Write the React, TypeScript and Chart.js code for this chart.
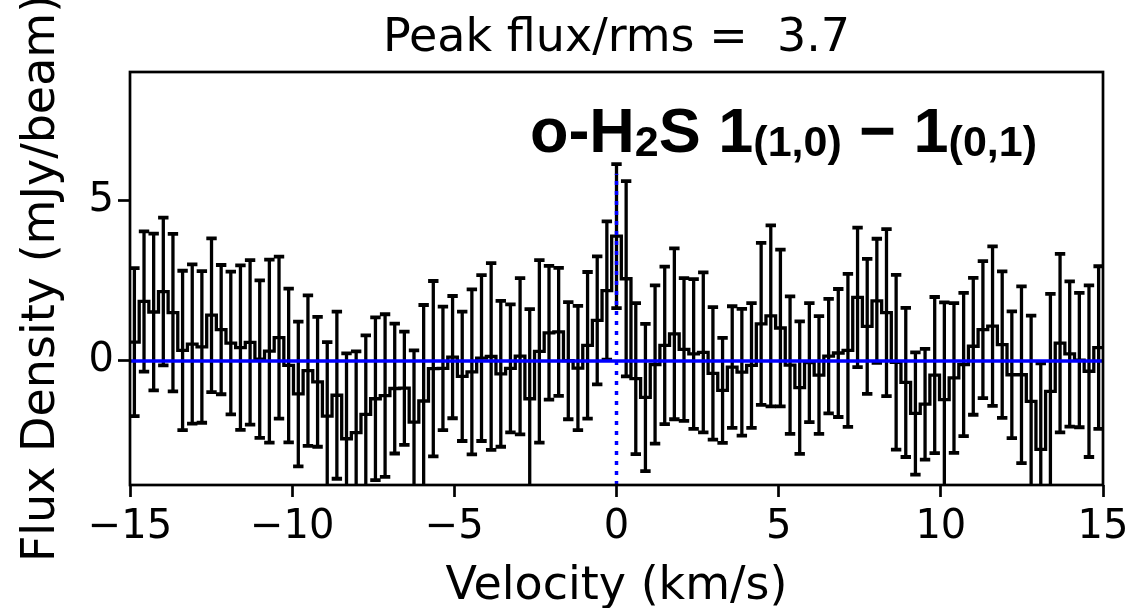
import React, { useEffect, useRef } from "react";
import { Chart, registerables } from "chart.js";

Chart.register(...registerables);

// ---- data ----
const channelWidth = 0.2973; // km/s
const firstChannel = -50; // channel index of first point (velocity = index * width)
const flux: number[] = [
  0.59, 1.86, 1.53, 2.17, 1.51, 0.33, 0.53, 0.44, 1.43, 0.98,
  0.56, 0.42, 0.58, 0.06, 0.31, 0.73, -0.14, -1.03, -0.30, -0.65,
  -1.72, -1.07, -2.43, -2.24, -1.67, -1.18, -1.08, -0.86, -0.85, -1.91,
  -1.25, -0.24, -0.23, 0.12, -0.48, -0.34, 0.09, 0.14, -0.40, -0.23,
  0.15, -1.18, 0.30, 0.88, 0.91, 0.01, -0.22, 0.49, 1.27, 2.20,
  3.90,
  2.57, -0.55, -1.14, -0.11, 0.49, 0.85, 0.36, 0.22, 0.27, -0.39,
  -0.92, -0.19, -0.35, -0.14, 1.16, 1.41, 1.03, -0.13, -0.83, -0.05,
  -0.44, 0.15, 0.25, 0.33, 1.99, 1.08, 1.88, 1.51, -0.04, -0.67,
  -1.64, -1.35, -0.44, -1.21, -0.53, -0.11, 0.46, 0.98, 1.09, 0.51,
  -0.43, -0.43, -1.26, -2.76, -0.95, 0.56, 0.22, 0.03, -0.32, 0.42,
];
const fluxErr: number[] = [
  2.31, 2.19, 2.45, 2.31, 2.46, 2.49, 2.49, 2.37, 2.40, 2.02,
  2.23, 2.57, 2.57, 2.46, 2.86, 2.53, 2.40, 2.26, 2.35, 2.03,
  2.31, 2.61, 2.67, 2.54, 2.47, 2.54, 2.54, 2.03, 1.77, 2.24,
  3.00, 2.74, 1.93, 1.91, 2.02, 2.58, 2.59, 2.92, 2.28, 2.00,
  2.44, 2.80, 2.85, 2.09, 2.00, 1.83, 1.94, 2.29, 2.00, 2.16,
  2.25,
  3.05, 2.36, 2.30, 2.47, 2.46, 2.67, 2.23, 2.34, 2.50, 2.07,
  1.64, 1.90, 1.98, 1.95, 2.53, 2.83, 2.45, 2.15, 2.07, 1.86,
  1.84, 1.79, 2.00, 2.39, 2.18, 2.11, 1.94, 2.61, 2.73, 2.33,
  1.91, 1.73, 2.44, 3.04, 2.34, 2.24, 2.14, 2.14, 2.49, 2.29,
  1.98, 2.76, 2.68, 2.69, 3.05, 2.79, 2.27, 2.10, 2.68, 2.54,
];
const velocity: number[] = flux.map((_, i) => (firstChannel + i) * channelWidth);

const xTicks: number[] = [-15, -10, -5, 0, 5, 10, 15];
const yTicks: number[] = [0, 5];
const xRange: [number, number] = [-15, 15];
const yRange: [number, number] = [-3.875, 9.03];
const lineCenter = 0; // km/s, dotted marker
const markerTop = 5.85; // top of dotted marker (mJy/beam)
const titleText = "Peak flux/rms =  3.7";
const lineLabel: [string, boolean][] = [
  ["o-H", false],
  ["2", true],
  ["S 1", false],
  ["(1,0)", true],
  [" \u2212 1", false],
  ["(0,1)", true],
];
const labelAnchor: [number, number] = [-2.67, 6.53];

const fmt = (v: number) => String(v).replace("-", "\u2212");

export default function App() {
  const ref = useRef<HTMLCanvasElement | null>(null);

  useEffect(() => {
    const canvas = ref.current;
    if (!canvas) return;

    const stepData: { x: number; y: number }[] = [];
    velocity.forEach((v, i) => {
      stepData.push({ x: v - channelWidth / 2, y: flux[i] });
      stepData.push({ x: v + channelWidth / 2, y: flux[i] });
    });

    const errorBars = {
      id: "errorBars",
      beforeDatasetsDraw(chart: any) {
        const { ctx, chartArea: a, scales } = chart;
        const xs = scales.x;
        const ys = scales.y;
        ctx.save();
        ctx.beginPath();
        ctx.rect(a.left, a.top, a.right - a.left, a.bottom - a.top);
        ctx.clip();
        ctx.strokeStyle = "#000";
        velocity.forEach((v, i) => {
          const px = xs.getPixelForValue(v);
          const top = ys.getPixelForValue(flux[i] + fluxErr[i]);
          const bot = ys.getPixelForValue(flux[i] - fluxErr[i]);
          ctx.lineWidth = 3.3;
          ctx.beginPath();
          ctx.moveTo(px, top);
          ctx.lineTo(px, bot);
          ctx.stroke();
          ctx.lineWidth = 3.8;
          ctx.beginPath();
          ctx.moveTo(px - 5.2, top);
          ctx.lineTo(px + 5.2, top);
          ctx.moveTo(px - 5.2, bot);
          ctx.lineTo(px + 5.2, bot);
          ctx.stroke();
        });
        ctx.restore();
      },
    };

    const decorations = {
      id: "decorations",
      afterDraw(chart: any) {
        const { ctx, chartArea: a, scales } = chart;
        ctx.save();
        // frame
        ctx.strokeStyle = "#000";
        ctx.lineWidth = 2.7;
        ctx.strokeRect(a.left, a.top, a.right - a.left, a.bottom - a.top);
        // title
        ctx.fillStyle = "#000";
        ctx.font = '46px "DejaVu Sans"';
        ctx.textAlign = "center";
        ctx.textBaseline = "alphabetic";
        ctx.fillText(titleText, (a.left + a.right) / 2, 51);
        // line label
        const S = 63;
        const subS = Math.round(S * 0.68);
        let x = scales.x.getPixelForValue(labelAnchor[0]);
        const base = scales.y.getPixelForValue(labelAnchor[1]);
        ctx.textAlign = "left";
        lineLabel.forEach(([t, sub]) => {
          ctx.font = `bold ${sub ? subS : S}px "Liberation Sans"`;
          const yy = sub ? base + 4 : base;
          ctx.fillText(t, x, yy);
          x += ctx.measureText(t).width;
        });
        ctx.restore();
      },
    };

    const chart = new Chart(canvas, {
      type: "line",
      data: {
        datasets: [
          {
            label: "zero",
            data: [
              { x: xRange[0], y: 0 },
              { x: xRange[1], y: 0 },
            ],
            borderColor: "#0000ff",
            borderWidth: 3.5,
            pointRadius: 0,
            order: 0,
            clip: 0,
          },
          {
            label: "marker",
            data: [
              { x: lineCenter, y: yRange[0] },
              { x: lineCenter, y: markerTop },
            ],
            borderColor: "#0000ff",
            borderWidth: 3.5,
            borderDash: [4, 6],
            pointRadius: 0,
            order: 1,
            clip: 0,
          },
          {
            label: "spectrum",
            data: stepData,
            borderColor: "#000",
            borderWidth: 3.3,
            pointRadius: 0,
            tension: 0,
            order: 2,
            clip: 0,
          },
        ],
      },
      options: {
        responsive: false,
        animation: false,
        events: [],
        layout: { padding: { top: 72, right: 25, left: 0, bottom: 0 } },
        plugins: {
          legend: { display: false },
          tooltip: { enabled: false },
          title: { display: false },
        },
        scales: {
          x: {
            type: "linear",
            min: xRange[0],
            max: xRange[1],
            afterBuildTicks: (s: any) => {
              s.ticks = xTicks.map((value) => ({ value }));
            },
            afterFit: (s: any) => {
              s.height = 123;
              s.paddingLeft = 0;
              s.paddingRight = 0;
            },
            grid: {
              display: true,
              drawOnChartArea: false,
              drawTicks: true,
              tickLength: 12,
              tickWidth: 2.7,
              tickColor: "#000",
            },
            border: { display: false },
            ticks: {
              color: "#000",
              font: { family: "DejaVu Sans", size: 40 },
              padding: 7,
              maxRotation: 0,
              autoSkip: false,
              callback: (v: any) => fmt(Number(v)),
            },
            title: {
              display: true,
              text: "Velocity (km/s)",
              color: "#000",
              font: { family: "DejaVu Sans", size: 46, lineHeight: 0.92 },
              padding: { top: 0, bottom: 0 },
            },
          },
          y: {
            type: "linear",
            min: yRange[0],
            max: yRange[1],
            afterBuildTicks: (s: any) => {
              s.ticks = yTicks.map((value) => ({ value }));
            },
            afterFit: (s: any) => {
              s.width = 130;
              s.paddingTop = 0;
              s.paddingBottom = 0;
            },
            grid: {
              display: true,
              drawOnChartArea: false,
              drawTicks: true,
              tickLength: 12,
              tickWidth: 2.7,
              tickColor: "#000",
            },
            border: { display: false },
            ticks: {
              color: "#000",
              font: { family: "DejaVu Sans", size: 40 },
              padding: 4,
              autoSkip: false,
              callback: (v: any) => fmt(Number(v)),
            },
            title: {
              display: true,
              text: "Flux Density (mJy/beam)",
              color: "#000",
              font: { family: "DejaVu Sans", size: 46 },
              padding: { top: 14, bottom: 0 },
            },
          },
        },
      },
      plugins: [errorBars, decorations],
    } as any);

    return () => chart.destroy();
  }, []);

  return (
    <div style={{ position: "absolute", left: 0, top: 0, width: 1128, height: 608, background: "#fff" }}>
      <canvas ref={ref} width={1128} height={608} style={{ display: "block" }} />
    </div>
  );
}
